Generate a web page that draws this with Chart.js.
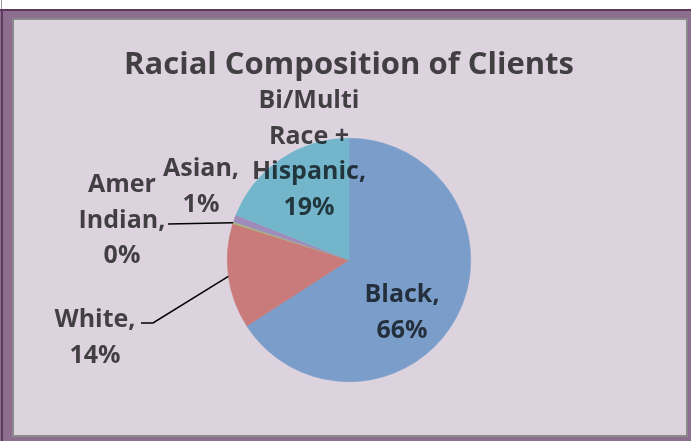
<!DOCTYPE html>
<html>
<head>
<meta charset="utf-8">
<script src="https://cdn.jsdelivr.net/npm/chart.js@4.4.1/dist/chart.umd.min.js"></script>
<style>
  html, body { margin: 0; padding: 0; background: #ffffff; }
  #wrap { width: 691px; height: 441px; }
</style>
</head>
<body>
<div id="wrap"><canvas id="c" width="691" height="441"></canvas></div>
<script>
// Client counts by race, as percentage shares
const categories = ['Black', 'White', 'Amer Indian', 'Asian', 'Bi/Multi Race + Hispanic'];
const shares = [66, 14, 0.2, 1, 19];
const sliceColors = ['#7B9DCA', '#C97A7A', '#9FBF72', '#A08CBA', '#73B6CB'];
const chartTitle = 'Racial Composition of Clients';

const FONT = '"Open Sans", Lato, "DejaVu Sans", sans-serif';
const TEXT_COLOR = 'rgba(0,0,0,0.70)';

// Where each data label sits, relative to the pie centre (px), plus wrap width
// and optional leader-line bend points.
const labelLayout = [
  { dx: 53,   dy: 42,   wrap: 90 },
  { dx: -254, dy: 67,   wrap: 90,  leader: [[-208, 63], [-196, 63]] },
  { dx: -227, dy: -68,  wrap: 80,  leader: [[-181, -36]] },
  { dx: -148, dy: -84,  wrap: 90 },
  { dx: -40,  dy: -152, wrap: 140 }
];
const LINE_PITCH = 35.5;

function wrapWords(ctx, text, maxWidth) {
  const words = text.split(' ');
  const lines = [];
  let cur = '';
  for (const w of words) {
    const test = cur ? cur + ' ' + w : w;
    if (cur && ctx.measureText(test).width > maxWidth) {
      lines.push(cur);
      cur = w;
    } else {
      cur = test;
    }
  }
  if (cur) lines.push(cur);
  return lines;
}

// Purple outer frame with an inset lavender panel
const framePlugin = {
  id: 'frame',
  beforeDraw(chart) {
    const ctx = chart.ctx;
    const W = chart.width, H = chart.height;
    ctx.save();
    ctx.fillStyle = '#ffffff';
    ctx.fillRect(0, 0, W, H);
    ctx.fillStyle = '#9a9a9a';
    ctx.fillRect(1, 0, 1, 9);
    ctx.fillStyle = '#8E6E8E';
    ctx.fillRect(0, 9, W, H - 9);
    ctx.fillStyle = '#5E3A62';
    ctx.fillRect(0, 9, W, 2);
    ctx.fillRect(1, 9, 2, H - 9);
    ctx.fillStyle = '#8A8A8A';
    ctx.fillRect(12, 18, 676, 419);
    ctx.fillStyle = '#DCD3DF';
    ctx.fillRect(14, 20, 672, 415);
    ctx.restore();
  }
};

// Title and data labels (category, percent) with leader lines
const labelPlugin = {
  id: 'pieLabels',
  afterDatasetsDraw(chart) {
    const ctx = chart.ctx;
    const meta = chart.getDatasetMeta(0);
    const values = chart.data.datasets[0].data;
    const total = values.reduce((a, b) => a + b, 0);
    const first = meta.data[0].getProps(['x', 'y'], true);
    const cx = first.x, cy = first.y;

    ctx.save();
    ctx.fillStyle = TEXT_COLOR;
    ctx.textAlign = 'center';
    ctx.textBaseline = 'alphabetic';
    ctx.font = 'bold 31px ' + FONT;
    ctx.fillText(chartTitle, cx, 74);

    ctx.font = 'bold 25px ' + FONT;
    meta.data.forEach((arc, i) => {
      const p = arc.getProps(['x', 'y', 'startAngle', 'endAngle', 'outerRadius'], true);
      const lay = labelLayout[i];
      const pct = Math.round(values[i] / total * 100);
      const lines = wrapWords(ctx, chart.data.labels[i] + ',', lay.wrap);
      lines.push(pct + '%');
      ctx.fillStyle = TEXT_COLOR;
      lines.forEach((ln, k) => {
        ctx.fillText(ln, cx + lay.dx, cy + lay.dy + k * LINE_PITCH);
      });
      if (lay.leader) {
        const mid = (p.startAngle + p.endAngle) / 2;
        const ex = p.x + Math.cos(mid) * p.outerRadius;
        const ey = p.y + Math.sin(mid) * p.outerRadius;
        ctx.strokeStyle = '#000000';
        ctx.lineWidth = 1.5;
        ctx.beginPath();
        lay.leader.forEach(([lx, ly], k) => {
          if (k === 0) ctx.moveTo(cx + lx, cy + ly);
          else ctx.lineTo(cx + lx, cy + ly);
        });
        ctx.lineTo(ex, ey);
        ctx.stroke();
      }
    });
    ctx.restore();
  }
};

new Chart(document.getElementById('c'), {
  type: 'pie',
  data: {
    labels: categories,
    datasets: [{
      data: shares,
      backgroundColor: sliceColors,
      borderColor: sliceColors,
      borderWidth: 0.5
    }]
  },
  options: {
    responsive: false,
    devicePixelRatio: 1,
    animation: false,
    layout: { padding: { left: 227, right: 220, top: 138, bottom: 59 } },
    plugins: {
      legend: { display: false },
      tooltip: { enabled: false },
      title: { display: false }
    }
  },
  plugins: [framePlugin, labelPlugin]
});
</script>
</body>
</html>
